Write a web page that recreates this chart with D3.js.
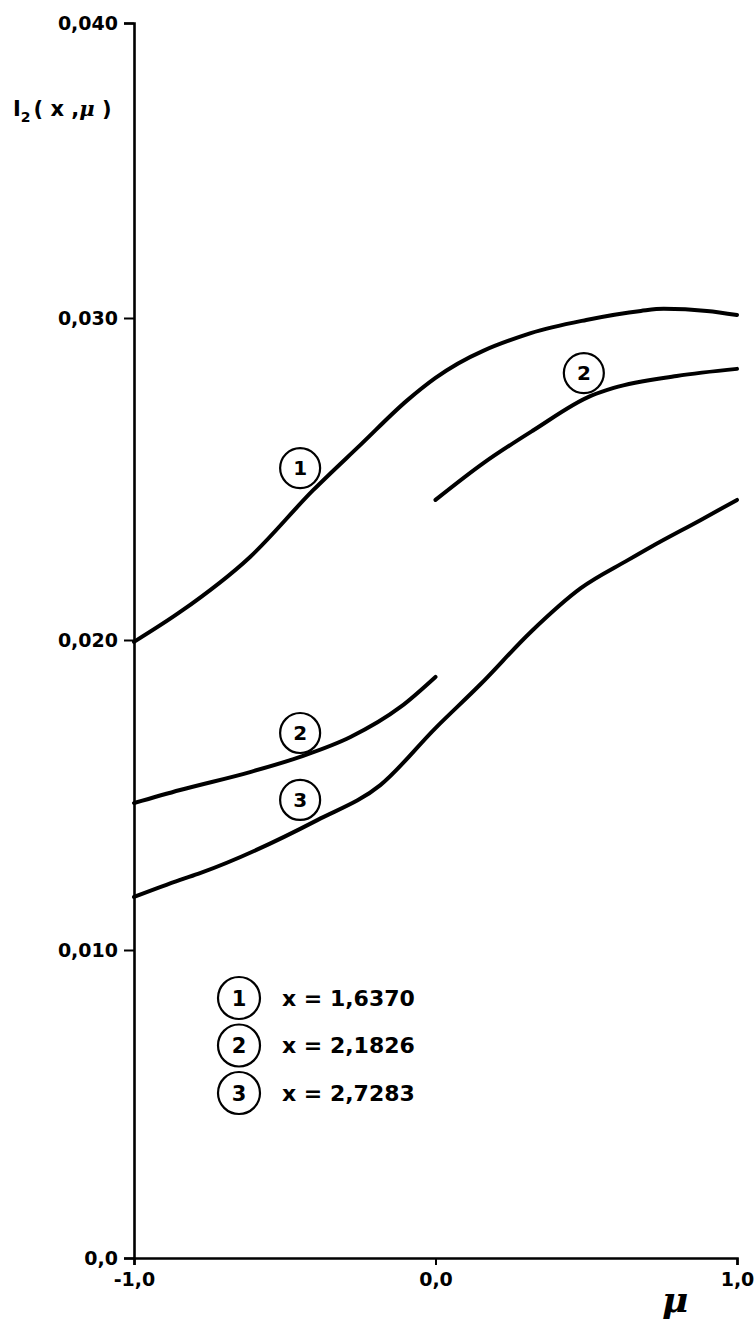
<!DOCTYPE html>
<html>
<head>
<meta charset="utf-8">
<script src="https://cdn.jsdelivr.net/npm/d3@7"></script>
<style>
  html, body { margin: 0; padding: 0; background: #fff; }
  svg { display: block; }
  text { font-family: "DejaVu Sans", sans-serif; font-weight: bold; fill: #000; }
</style>
</head>
<body>
<svg id="chart" width="754" height="1322"></svg>
<script>
// μ positions and I2 values for each curve
const mu1 = [-1.000, -0.847, -0.615, -0.405, -0.249, -0.093, 0.000, 0.316, 0.500, 0.681, 0.757, 0.900, 1.000];
const i1  = [0.01994, 0.02087, 0.02258, 0.02466, 0.02606, 0.02745, 0.02814, 0.02953, 0.02994, 0.03024, 0.03031, 0.03024, 0.03010];

// curve 2 is drawn in two pieces, broken at μ = 0
const mu2a = [-1.000, -0.847, -0.615, -0.449, -0.282, -0.116, 0.000];
const i2a  = [0.01474, 0.01516, 0.01574, 0.01623, 0.01687, 0.01784, 0.01881];
const mu2b = [0.000, 0.160, 0.326, 0.515, 0.591, 0.800, 1.000];
const i2b  = [0.02435, 0.02550, 0.02652, 0.02758, 0.02783, 0.02820, 0.02842];

const mu3 = [-1.000, -0.847, -0.781, -0.392, -0.183, 0.000, 0.150, 0.316, 0.482, 0.638, 0.714, 0.880, 1.000];
const i3  = [0.01171, 0.01226, 0.01248, 0.01419, 0.01532, 0.01716, 0.01858, 0.02025, 0.02161, 0.02248, 0.02289, 0.02373, 0.02435];

// circled curve numbers: [number, μ, I2]
const curveTags = [
  ["1", -0.449, 0.02534],
  ["2", -0.449, 0.01700],
  ["2",  0.492, 0.02829],
  ["3", -0.449, 0.01484]
];

// legend entries
const legendIds = ["1", "2", "3"];
const legendTexts = ["x = 1,6370", "x = 2,1826", "x = 2,7283"];

// axis ticks
const xTicks = [-1, 0, 1];
const yTicks = [0, 0.01, 0.02, 0.03, 0.04];
const xTickLabels = ["-1,0", "0,0", "1,0"];
const yTickLabels = ["0,0", "0,010", "0,020", "0,030", "0,040"];

const svg = d3.select("#chart");

const x = d3.scaleLinear().domain([-1, 1]).range([134, 737]);
// hand-ruled axis: tick stops are not quite evenly spaced
const y = d3.scaleLinear().domain(yTicks).range([1258, 950, 640, 318, 23]);

// axes
const yAxis = d3.axisLeft(y).tickValues(yTicks).tickSize(10).tickPadding(6)
  .tickFormat((d, i) => yTickLabels[i]);
const gy = svg.append("g").attr("transform", `translate(${x(-1)},0)`).call(yAxis);
gy.select(".domain").attr("stroke", "#000").attr("stroke-width", 2.6);
gy.selectAll(".tick line").attr("stroke", "#000").attr("stroke-width", 2);
gy.selectAll(".tick text").style("font-size", "19px").attr("dy", "0.35em");

const xAxis = d3.axisBottom(x).tickValues(xTicks).tickSize(7).tickPadding(8)
  .tickFormat((d, i) => xTickLabels[i]);
const gx = svg.append("g").attr("transform", `translate(0,${y(0)})`).call(xAxis);
gx.select(".domain").attr("stroke", "#000").attr("stroke-width", 2.6);
gx.selectAll(".tick line").attr("stroke", "#000").attr("stroke-width", 2);
gx.selectAll(".tick text").style("font-size", "19px");

// axis titles
const yt = svg.append("text").attr("x", 13).attr("y", 116).style("font-size", "21px");
yt.append("tspan").text("I");
yt.append("tspan").attr("dy", 6).style("font-size", "14px").text("2");
yt.append("tspan").attr("dy", -6).attr("dx", 3).text("( x ,");
yt.append("tspan").style("font-family", "'DejaVu Serif', serif").style("font-style", "italic").text("μ");
yt.append("tspan").text("  )");

svg.append("text").attr("x", 662).attr("y", 1312)
  .style("font-family", "'DejaVu Serif', serif").style("font-style", "italic")
  .style("font-size", "36px").text("μ");

// curves
const line = d3.line().x(d => x(d[0])).y(d => y(d[1])).curve(d3.curveMonotoneX);
const series = [
  d3.zip(mu1, i1),
  d3.zip(mu2a, i2a),
  d3.zip(mu2b, i2b),
  d3.zip(mu3, i3)
];
svg.append("g").selectAll("path").data(series).join("path")
  .attr("d", line)
  .attr("fill", "none")
  .attr("stroke", "#000")
  .attr("stroke-width", 4)
  .attr("stroke-linecap", "round");

// circled numbers along the curves
const tags = svg.append("g").selectAll("g").data(curveTags).join("g")
  .attr("transform", d => `translate(${x(d[1])},${y(d[2])})`);
tags.append("circle").attr("r", 20).attr("fill", "#fff").attr("stroke", "#000").attr("stroke-width", 2.2);
tags.append("text").attr("text-anchor", "middle").attr("dy", "0.36em")
  .style("font-size", "20px").text(d => d[0]);

// legend
const legend = svg.append("g").attr("transform", "translate(239,998)");
const rows = legend.selectAll("g").data(legendIds).join("g")
  .attr("transform", (d, i) => `translate(0,${i * 47.5})`);
rows.append("circle").attr("r", 21).attr("fill", "#fff").attr("stroke", "#000").attr("stroke-width", 2.2);
rows.append("text").attr("text-anchor", "middle").attr("dy", "0.36em")
  .style("font-size", "21px").text(d => d);
rows.append("text").attr("x", 43).attr("dy", "0.36em")
  .style("font-size", "22px").text((d, i) => legendTexts[i]);
</script>
</body>
</html>
